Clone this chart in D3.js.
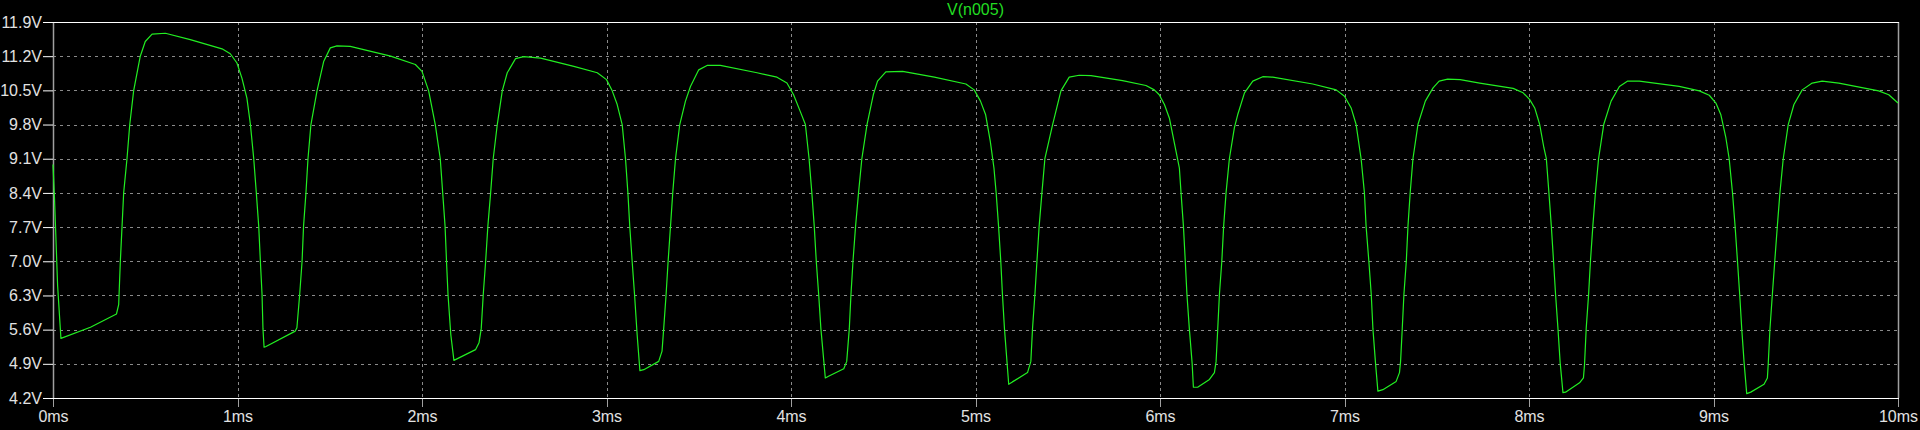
<!DOCTYPE html>
<html>
<head>
<meta charset="utf-8">
<script src="https://cdn.jsdelivr.net/npm/d3@7"></script>
<style>
  html, body { margin: 0; padding: 0; background: #000; }
  svg { display: block; }
</style>
</head>
<body>
<svg id="chart" width="1920" height="430"></svg>
<script>
const title = "V(n005)";
const xTicks = [0, 1, 2, 3, 4, 5, 6, 7, 8, 9, 10];
const xTickLabels = ["0ms","1ms","2ms","3ms","4ms","5ms","6ms","7ms","8ms","9ms","10ms"];
const yTicks = [4.2, 4.9, 5.6, 6.3, 7.0, 7.7, 8.4, 9.1, 9.8, 10.5, 11.2, 11.9];
const yTickLabels = ["4.2V","4.9V","5.6V","6.3V","7.0V","7.7V","8.4V","9.1V","9.8V","10.5V","11.2V","11.9V"];

const timeMs = [
  0, 0.008, 0.025, 0.043, 0.203, 0.344, 0.356, 0.365, 0.383, 0.401, 0.416, 0.437, 0.473, 0.50, 0.537, 0.609, 0.744, 0.916, 0.961, 0.997,
  1.024, 1.051, 1.07, 1.088, 1.102, 1.115, 1.124, 1.133, 1.138, 1.144, 1.152, 1.313, 1.322, 1.337, 1.35, 1.358, 1.371, 1.382, 1.398, 1.431,
  1.467, 1.503, 1.539, 1.611, 1.830, 1.964, 2.0, 2.036, 2.072, 2.099, 2.116, 2.125, 2.134, 2.141, 2.156, 2.173,
  2.29, 2.309, 2.321, 2.332, 2.345, 2.357, 2.372, 2.386, 2.408, 2.435, 2.462, 2.507, 2.552, 2.643, 2.823, 2.95, 3.0, 3.031, 3.058, 3.085,
  3.103, 3.116, 3.126, 3.139, 3.152, 3.166, 3.181,
  3.202, 3.283, 3.301, 3.31, 3.323, 3.334, 3.347, 3.359, 3.374, 3.397, 3.428, 3.455, 3.50, 3.545, 3.617, 3.816, 3.924, 3.978, 4.014, 4.05,
  4.078, 4.098, 4.113, 4.126, 4.137, 4.15, 4.162, 4.186,
  4.206, 4.286, 4.302, 4.316, 4.325, 4.336, 4.35, 4.366, 4.384, 4.412, 4.446, 4.469, 4.514, 4.605, 4.777, 4.948, 4.993, 5.027, 5.055, 5.08,
  5.1, 5.112, 5.125, 5.137, 5.146, 5.157, 5.18,
  5.2, 5.282, 5.30, 5.309, 5.322, 5.333, 5.345, 5.36, 5.376, 5.418, 5.463, 5.508, 5.562, 5.626, 5.797, 5.924, 5.969, 5.996, 6.024, 6.051,
  6.078, 6.105, 6.114, 6.127, 6.137, 6.146, 6.159, 6.174, 6.181,
  6.204, 6.268, 6.295, 6.304, 6.313, 6.322, 6.335, 6.345, 6.358, 6.376, 6.403, 6.421, 6.458, 6.503, 6.557, 6.611, 6.828, 6.955, 7.0, 7.036,
  7.063, 7.09, 7.108, 7.117, 7.132, 7.145, 7.154, 7.168, 7.181,
  7.208, 7.28, 7.298, 7.304, 7.313, 7.322, 7.335, 7.344, 7.356, 7.371, 7.398, 7.438, 7.48, 7.513, 7.559, 7.627, 7.733, 7.914, 7.968, 8.004,
  8.031, 8.058, 8.081, 8.094, 8.108, 8.121, 8.133, 8.144, 8.157, 8.169, 8.184,
  8.198, 8.274, 8.295, 8.301, 8.31, 8.323, 8.333, 8.346, 8.36, 8.377, 8.405, 8.445, 8.49, 8.535, 8.598, 8.814, 8.923, 8.977, 9.013, 9.04,
  9.067, 9.085, 9.103, 9.117, 9.13, 9.142, 9.153, 9.166, 9.18,
  9.202, 9.274, 9.292, 9.297, 9.306, 9.319, 9.332, 9.346, 9.36, 9.378, 9.405, 9.436, 9.481, 9.535, 9.589, 9.679, 9.895, 9.95, 10.0
];

const voltage = [
  8.98, 8.30, 6.50, 5.42, 5.65, 5.92, 6.11, 7.00, 8.40, 9.10, 9.80, 10.49, 11.20, 11.50, 11.65, 11.67, 11.54, 11.35, 11.25, 11.06,
  10.75, 10.34, 9.80, 9.10, 8.40, 7.72, 7.00, 6.32, 5.62, 5.24, 5.25, 5.57, 5.64, 6.32, 7.00, 7.72, 8.40, 9.10, 9.80, 10.49,
  11.09, 11.37, 11.41, 11.40, 11.20, 11.03, 10.89, 10.49, 9.80, 9.10, 8.20, 7.72, 6.90, 6.32, 5.50, 4.97,
  5.19, 5.33, 5.62, 6.32, 7.00, 7.72, 8.40, 9.10, 9.80, 10.49, 10.86, 11.15, 11.19, 11.16, 10.99, 10.86, 10.72, 10.49, 10.21, 9.80,
  9.10, 8.40, 7.72, 7.00, 6.32, 5.50, 4.76,
  4.78, 4.95, 5.16, 5.62, 6.32, 7.00, 7.72, 8.40, 9.10, 9.80, 10.28, 10.58, 10.92, 11.01, 11.01, 10.86, 10.77, 10.65, 10.41, 10.07,
  9.80, 9.10, 8.40, 7.72, 7.00, 6.32, 5.62, 4.61,
  4.65, 4.80, 4.95, 5.62, 6.32, 7.00, 7.72, 8.40, 9.10, 9.80, 10.41, 10.69, 10.88, 10.89, 10.77, 10.63, 10.51, 10.28, 10.00, 9.46,
  8.91, 8.40, 7.72, 7.00, 6.32, 5.62, 4.48,
  4.53, 4.72, 4.95, 5.62, 6.32, 7.00, 7.72, 8.40, 9.10, 9.80, 10.49, 10.77, 10.81, 10.80, 10.70, 10.60, 10.51, 10.41, 10.21, 9.93,
  9.42, 8.91, 8.40, 7.72, 7.00, 6.32, 5.62, 4.92, 4.42,
  4.42, 4.58, 4.72, 4.95, 5.62, 6.32, 7.00, 7.72, 8.40, 9.10, 9.73, 10.00, 10.45, 10.69, 10.78, 10.77, 10.63, 10.51, 10.38, 10.14,
  9.80, 9.10, 8.40, 7.72, 7.00, 6.32, 5.62, 4.92, 4.34,
  4.37, 4.54, 4.72, 4.95, 5.62, 6.32, 7.00, 7.72, 8.40, 9.10, 9.80, 10.28, 10.55, 10.69, 10.73, 10.72, 10.65, 10.54, 10.45, 10.31,
  10.14, 9.80, 9.32, 9.10, 8.40, 7.72, 7.00, 6.32, 5.62, 4.92, 4.31,
  4.32, 4.51, 4.61, 4.89, 5.62, 6.32, 7.00, 7.72, 8.40, 9.10, 9.80, 10.28, 10.58, 10.69, 10.69, 10.58, 10.49, 10.40, 10.24, 10.00,
  9.53, 9.10, 8.40, 7.72, 7.00, 6.32, 5.62, 4.92, 4.29,
  4.32, 4.48, 4.61, 4.92, 5.62, 6.32, 7.00, 7.72, 8.40, 9.10, 9.80, 10.21, 10.51, 10.65, 10.69, 10.65, 10.49, 10.41, 10.24
];

(function () {
  const W = 1920, H = 430;
  const mLeft = 53, mRight = 1898, mTop = 22, mBottom = 398;
  const font = "'Liberation Sans', Arial, sans-serif";

  const svg = d3.select("#chart");
  svg.append("rect").attr("width", W).attr("height", H).attr("fill", "#000");

  const x = d3.scaleLinear().domain([0, 10]).range([mLeft, mRight]);
  const y = d3.scaleLinear().domain([4.2, 11.9]).range([mBottom, mTop]);

  // horizontal grid lines (dashed)
  svg.append("g").selectAll("line")
    .data(yTicks.slice(1, -1))
    .join("line")
    .attr("x1", mLeft).attr("x2", mRight)
    .attr("y1", d => Math.round(y(d)) + 0.5).attr("y2", d => Math.round(y(d)) + 0.5)
    .attr("stroke", "#8a8a8a").attr("stroke-width", 1)
    .attr("stroke-dasharray", "3,4");

  // vertical grid lines (dashed)
  svg.append("g").selectAll("line")
    .data(xTicks.slice(1, -1))
    .join("line")
    .attr("x1", d => Math.round(x(d)) + 0.5).attr("x2", d => Math.round(x(d)) + 0.5)
    .attr("y1", mTop).attr("y2", mBottom)
    .attr("stroke", "#8a8a8a").attr("stroke-width", 1)
    .attr("stroke-dasharray", "3,3");

  // x tick marks below the plot
  svg.append("g").selectAll("line")
    .data(xTicks)
    .join("line")
    .attr("x1", d => Math.round(x(d)) + 0.5).attr("x2", d => Math.round(x(d)) + 0.5)
    .attr("y1", mBottom).attr("y2", mBottom + 9)
    .attr("stroke", "#a0a0a0").attr("stroke-width", 1);

  // left / right borders (grey)
  [mLeft, mRight].forEach(px => {
    svg.append("line")
      .attr("x1", px + 0.5).attr("x2", px + 0.5)
      .attr("y1", mTop).attr("y2", mBottom)
      .attr("stroke", "#a0a0a0").attr("stroke-width", 1.5);
  });
  // top / bottom borders (white)
  [mTop, mBottom].forEach(py => {
    svg.append("line")
      .attr("x1", mLeft).attr("x2", mRight + 1)
      .attr("y1", py + 0.5).attr("y2", py + 0.5)
      .attr("stroke", "#ffffff").attr("stroke-width", 1);
  });

  // y axis ticks + labels
  const yAxis = d3.axisLeft(y)
    .tickValues(yTicks)
    .tickFormat((d, i) => yTickLabels[i])
    .tickSize(10)
    .tickPadding(1);
  const gy = svg.append("g").attr("transform", `translate(${mLeft},0)`).call(yAxis);
  gy.select(".domain").remove();
  gy.selectAll(".tick line").attr("stroke", "#ffffff");
  gy.selectAll(".tick text")
    .attr("fill", "#e2e2e2")
    .style("font-family", font)
    .style("font-size", "16px");

  // x axis labels
  const xAxis = d3.axisBottom(x)
    .tickValues(xTicks)
    .tickFormat((d, i) => xTickLabels[i])
    .tickSize(0)
    .tickPadding(13);
  const gx = svg.append("g").attr("transform", `translate(0,${mBottom})`).call(xAxis);
  gx.select(".domain").remove();
  gx.selectAll(".tick text")
    .attr("fill", "#e2e2e2")
    .style("font-family", font)
    .style("font-size", "16px");

  // title
  svg.append("text")
    .attr("x", (mLeft + mRight) / 2)
    .attr("y", 15)
    .attr("text-anchor", "middle")
    .attr("fill", "#22dd22")
    .style("font-family", font)
    .style("font-size", "16px")
    .text(title);

  // trace
  const pts = timeMs.map((t, i) => [t, voltage[i]]);
  const line = d3.line()
    .x(d => x(d[0]))
    .y(d => y(d[1]))
    .curve(d3.curveLinear);
  svg.append("path")
    .datum(pts)
    .attr("fill", "none")
    .attr("stroke", "#22ee22")
    .attr("stroke-width", 1.2)
    .attr("stroke-linejoin", "round")
    .attr("d", line);
})();
</script>
</body>
</html>
